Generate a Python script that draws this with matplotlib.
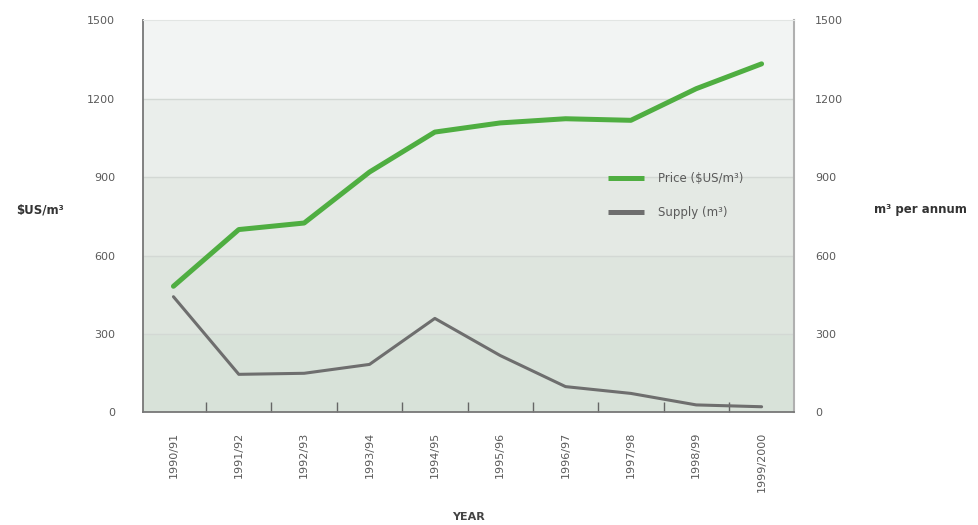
"""Price vs supply chart, 1990/91 to 1999/2000, with twin y axes."""

import matplotlib
matplotlib.use("Agg")
import matplotlib.pyplot as plt
import numpy as np

plt.rcParams["font.family"] = ["DejaVu Sans"]

years = ["1990/91", "1991/92", "1992/93", "1993/94", "1994/95",
         "1995/96", "1996/97", "1997/98", "1998/99", "1999/2000"]
price = [483, 700, 725, 920, 1073, 1108, 1124, 1118, 1239, 1334]
supply = [443, 146, 150, 184, 360, 218, 99, 73, 29, 22]

y_ticks = [0, 300, 600, 900, 1200, 1500]
band_colors = ["#d8e2d9", "#dee5de", "#e4e9e4", "#eaeeeb", "#f2f4f3"]

GREEN = "#4fae41"
GREY = "#6e6e6e"
TEXT = "#5a5a5a"

fig = plt.figure(figsize=(9.79, 5.25), dpi=100)
ax = fig.add_axes([0.1458, 0.2143, 0.6655, 0.7467])
x = np.arange(len(years))

# shaded bands between the gridlines
for lo, hi, c in zip(y_ticks[:-1], y_ticks[1:], band_colors):
    ax.axhspan(lo, hi, color=c, zorder=0, lw=0)
for yv in y_ticks[1:-1]:
    ax.axhline(yv, color="#d3d8d4", lw=1.0, zorder=1)

ax.plot(x, price, color=GREEN, lw=3.6, solid_capstyle="round",
        solid_joinstyle="round", zorder=3, label="Price ($US/m³)")
ax.plot(x, supply, color=GREY, lw=2.2, solid_capstyle="round",
        solid_joinstyle="round", zorder=3, label="Supply (m³)")

ax.set_xlim(-0.47, len(years) - 0.5)
ax.set_ylim(0, 1500)
ax.set_yticks(y_ticks)
ax.tick_params(axis="y", length=0, pad=20, labelsize=8, labelcolor=TEXT)

ax.set_xticks(x)
ax.set_xticklabels(years, rotation=90, fontsize=8, color=TEXT, va="top")
ax.tick_params(axis="x", which="major", length=0, pad=14)
ax.set_xticks(x[:-1] + 0.5, minor=True)
ax.tick_params(axis="x", which="minor", direction="in", length=7,
               width=1.0, color="#666666")

ax.set_xlabel("YEAR", fontsize=8, fontweight="bold", color="#444444", labelpad=14)
ax.set_ylabel("$US/m³", rotation=0, fontsize=8.5, fontweight="bold",
              color="#333333", ha="center", va="center")
ax.yaxis.set_label_coords(-0.157, 0.517)

for side in ("left", "bottom"):
    ax.spines[side].set_color("#777777")
    ax.spines[side].set_linewidth(1.3)
ax.spines["top"].set_color("#e2e5e3")
ax.spines["right"].set_color("#b0b0b0")
ax.spines["right"].set_linewidth(1.5)

ax2 = ax.twinx()
ax2.set_ylim(0, 1500)
ax2.set_yticks(y_ticks)
ax2.tick_params(axis="y", length=0, pad=15, labelsize=8, labelcolor=TEXT)
ax2.set_ylabel("m³ per annum", rotation=0, fontsize=8.5, fontweight="bold",
               color="#333333", ha="center", va="center")
ax2.yaxis.set_label_coords(1.193, 0.517)
for s in ax2.spines.values():
    s.set_visible(False)

leg = ax.legend(loc="center left", bbox_to_anchor=(0.698, 0.554), frameon=False,
                fontsize=8.5, handlelength=3.0, handletextpad=1.2,
                labelspacing=1.8, labelcolor=TEXT)
for line in leg.get_lines():
    line.set_linewidth(3.6)
    line.set_solid_capstyle("butt")

fig.savefig("out.png", dpi=100)
